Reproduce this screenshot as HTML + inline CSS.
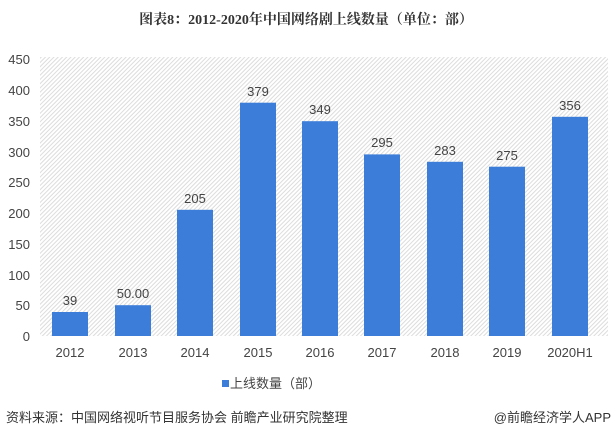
<!DOCTYPE html>
<html><head><meta charset="utf-8"><style>
body{margin:0;width:613px;height:439px;background:#fff;overflow:hidden;font-family:"Liberation Sans","Noto Sans CJK SC",sans-serif;}
</style></head><body>
<svg width="613" height="439" xmlns="http://www.w3.org/2000/svg" font-family="Liberation Sans, Noto Sans CJK SC, sans-serif">
<defs>
<pattern id="h" width="3" height="3" patternUnits="userSpaceOnUse" patternTransform="rotate(45)">
<rect width="3" height="3" fill="#fff"/><rect width="1" height="3" fill="#dcdcdc"/>
</pattern>
</defs>
<text x="306" y="24" text-anchor="middle" font-size="14" font-weight="bold" fill="#333" font-family="Liberation Serif, Noto Serif CJK SC, serif">图表8：2012-2020年中国网络剧上线数量（单位：部）</text>
<rect x="40" y="57" width="568" height="279" fill="url(#h)"/>
<g font-size="13" fill="#444" text-anchor="end">
<text x="30" y="341">0</text><text x="30" y="310">50</text><text x="30" y="280">100</text><text x="30" y="249">150</text><text x="30" y="218">200</text><text x="30" y="187">250</text><text x="30" y="157">300</text><text x="30" y="126">350</text><text x="30" y="95">400</text><text x="30" y="64">450</text>
</g>
<g fill="#3b7dd8">
<rect x="52" y="312" width="36" height="24"/>
<rect x="115" y="305.2" width="36" height="30.8"/>
<rect x="177" y="209.8" width="36" height="126.2"/>
<rect x="240" y="102.7" width="36" height="233.3"/>
<rect x="302" y="121.2" width="36" height="214.8"/>
<rect x="364" y="154.4" width="36" height="181.6"/>
<rect x="427" y="161.8" width="36" height="174.2"/>
<rect x="489" y="166.7" width="36" height="169.3"/>
<rect x="552" y="116.8" width="36" height="219.2"/>
</g>
<g font-size="13" fill="#444" text-anchor="middle">
<text x="70" y="305">39</text><text x="133" y="298">50.00</text><text x="195" y="203">205</text><text x="258" y="96">379</text><text x="320" y="114">349</text><text x="382" y="147">295</text><text x="445" y="155">283</text><text x="507" y="160">275</text><text x="570" y="110">356</text>
<text x="70" y="357">2012</text><text x="133" y="357">2013</text><text x="195" y="357">2014</text><text x="258" y="357">2015</text><text x="320" y="357">2016</text><text x="382" y="357">2017</text><text x="445" y="357">2018</text><text x="507" y="357">2019</text><text x="570" y="357">2020H1</text>
</g>
<rect x="222" y="380" width="7" height="7" fill="#3b7dd8"/>
<text x="230" y="388" font-size="13" fill="#444">上线数量（部）</text>
<text x="6" y="422" font-size="13" fill="#333">资料来源：中国网络视听节目服务协会 前瞻产业研究院整理</text>
<text x="611" y="422" font-size="13" fill="#333" text-anchor="end">@前瞻经济学人APP</text>
</svg>
</body></html>
